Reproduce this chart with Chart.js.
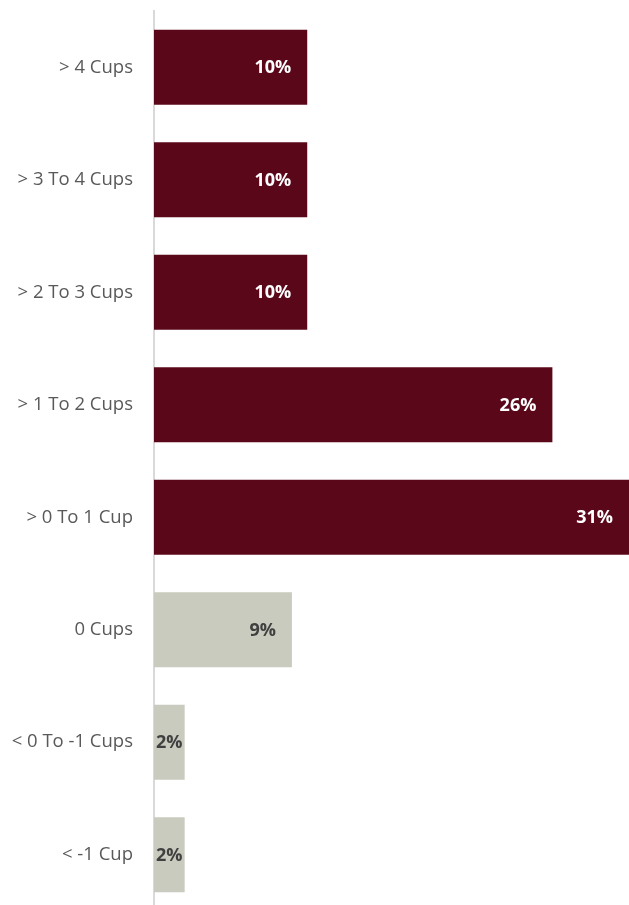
<!DOCTYPE html>
<html>
<head>
<meta charset="utf-8">
<script src="https://cdn.jsdelivr.net/npm/chart.js@4/dist/chart.umd.min.js"></script>
<style>
  html, body { margin: 0; padding: 0; background: #fff; overflow: hidden; }
  canvas { display: block; }
</style>
</head>
<body>
<canvas id="c" width="629" height="922"></canvas>
<script>
const categories = ['> 4 Cups', '> 3 To 4 Cups', '> 2 To 3 Cups', '> 1 To 2 Cups', '> 0 To 1 Cup', '0 Cups', '< 0 To -1 Cups', '< -1 Cup'];
const shares = [10, 10, 10, 26, 31, 9, 2, 2];
const barColors = ['#5a0819', '#5a0819', '#5a0819', '#5a0819', '#5a0819', '#c8cbbe', '#c8cbbe', '#c8cbbe'];
const labelColors = ['#ffffff', '#ffffff', '#ffffff', '#ffffff', '#ffffff', '#404040', '#404040', '#404040'];

// values drawn at the inside end of each bar
const barLabels = {
  id: 'barLabels',
  afterDatasetsDraw(chart) {
    const ctx = chart.ctx;
    const meta = chart.getDatasetMeta(0);
    ctx.save();
    ctx.font = 'bold 18px "Open Sans"';
    ctx.textBaseline = 'middle';
    meta.data.forEach((bar, i) => {
      const txt = shares[i] + '%';
      const w = ctx.measureText(txt).width;
      let x = bar.x - 16;
      ctx.textAlign = 'right';
      if (x - w < bar.base + 2) {
        ctx.textAlign = 'center';
        x = (bar.x + bar.base) / 2;
      }
      ctx.fillStyle = labelColors[i];
      ctx.fillText(txt, x, bar.y + 1);
    });
    ctx.restore();
  }
};

new Chart(document.getElementById('c'), {
  type: 'bar',
  data: {
    labels: categories,
    datasets: [{
      data: shares,
      backgroundColor: barColors,
      categoryPercentage: 1,
      barPercentage: 0.667
    }]
  },
  options: {
    indexAxis: 'y',
    responsive: false,
    animation: false,
    layout: { padding: { top: 11, bottom: 11, left: 0, right: 0 } },
    plugins: { legend: { display: false }, tooltip: { enabled: false } },
    scales: {
      x: {
        min: 0,
        max: 31,
        display: false
      },
      y: {
        // invisible tick marks give the 20px gap without padding the chart area
        grid: { display: false, drawTicks: true, tickLength: 21, tickColor: 'rgba(0,0,0,0)' },
        border: { display: true, color: '#d9d9d9', width: 2 },
        ticks: {
          color: '#595959',
          font: { family: '"Open Sans"', size: 18.5 },
          padding: 0
        },
        afterFit(scale) { scale.width = 154; }
      }
    }
  },
  plugins: [barLabels]
});
</script>
</body>
</html>
